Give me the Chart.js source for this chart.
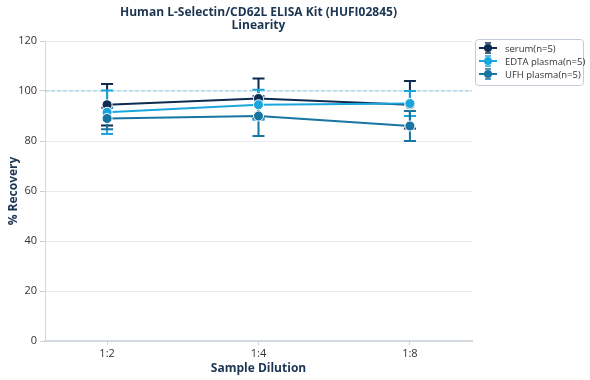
<!DOCTYPE html>
<html><head><meta charset="utf-8">
<script src="https://cdn.jsdelivr.net/npm/chart.js@4/dist/chart.umd.min.js"></script>
<style>html,body{margin:0;padding:0;background:#fff}#wrap{width:590px;height:380px;position:relative}</style>
</head><body><div id="wrap"><canvas id="c" width="590" height="380"></canvas></div>
<script>
const titleLines = ["Human L-Selectin/CD62L ELISA Kit (HUFI02845)", "Linearity"];
const categories = ["1:2", "1:4", "1:8"];
const seriesNames = ["serum(n=5)", "EDTA plasma(n=5)", "UFH plasma(n=5)"];
const serum = [94.5, 97, 94.5];
const serumErr = [8.3, 8, 9.5];
const edta = [91.5, 94.5, 95];
const edtaErr = [8.7, 6, 5];
const ufh = [89, 90, 86];
const ufhErr = [4.3, 8, 6];
const yTicks = [0, 20, 40, 60, 80, 100, 120];
const refValue = 100;
const colors = ["#0d2c4f", "#1aa6dc", "#1874a0"];

const values = [serum, edta, ufh];
const errs = [serumErr, edtaErr, ufhErr];
const FONT = "'Open Sans', 'Noto Sans', sans-serif";

const datasets = values.map((v, i) => ({
  label: seriesNames[i],
  data: v.map((y, j) => ({x: j, y: y})),
  borderColor: colors[i],
  backgroundColor: colors[i],
  borderWidth: 2,
  pointRadius: 5,
  pointBorderColor: '#ffffff',
  pointBorderWidth: 1,
  pointBackgroundColor: colors[i],
  tension: 0,
  order: values.length - i
}));

const errPlugin = {
  id: 'err',
  beforeDatasetsDraw(chart) {
    const ctx = chart.ctx, xs = chart.scales.x, ys = chart.scales.y;
    const ca = chart.chartArea;
    const yr = ys.getPixelForValue(refValue);
    ctx.save();
    ctx.strokeStyle = '#8ccfe3';
    ctx.lineWidth = 1;
    ctx.setLineDash([4, 2]);
    ctx.beginPath(); ctx.moveTo(ca.left, yr); ctx.lineTo(ca.right, yr); ctx.stroke();
    ctx.setLineDash([]);
    for (let i = 0; i < values.length; i++) {
      ctx.strokeStyle = colors[i];
      ctx.lineWidth = 2;
      values[i].forEach((v, j) => {
        const x = xs.getPixelForValue(j);
        const y1 = ys.getPixelForValue(v + errs[i][j]);
        const y2 = ys.getPixelForValue(v - errs[i][j]);
        ctx.beginPath();
        ctx.moveTo(x, y1); ctx.lineTo(x, y2);
        ctx.moveTo(x - 6, y1); ctx.lineTo(x + 6, y1);
        ctx.moveTo(x - 6, y2); ctx.lineTo(x + 6, y2);
        ctx.stroke();
      });
    }
    ctx.restore();
  },
  afterDraw(chart) {
    const ctx = chart.ctx, ca = chart.chartArea;
    ctx.save();
    ctx.fillStyle = '#1b3552';
    ctx.font = "bold 12px " + FONT;
    ctx.textAlign = 'center';
    ctx.textBaseline = 'middle';
    const cx = (ca.left + ca.right) / 2;
    ctx.fillText(titleLines[0], cx, 13);
    ctx.fillText(titleLines[1], cx, 26);
    const lx = 475, ly = 39, lw = 108, lh = 46;
    ctx.strokeStyle = '#c3ccd6';
    ctx.lineWidth = 1;
    ctx.beginPath();
    if (ctx.roundRect) ctx.roundRect(lx + 0.5, ly + 0.5, lw, lh, 3); else ctx.rect(lx + 0.5, ly + 0.5, lw, lh);
    ctx.stroke();
    ctx.font = "9.5px " + FONT;
    ctx.textAlign = 'left';
    seriesNames.forEach((n, i) => {
      const y = ly + 9 + i * 13;
      ctx.strokeStyle = colors[i];
      ctx.fillStyle = colors[i];
      ctx.lineWidth = 2;
      ctx.beginPath(); ctx.moveTo(479, y); ctx.lineTo(497, y); ctx.stroke();
      ctx.lineWidth = 1.5;
      ctx.beginPath(); ctx.moveTo(485, y - 5); ctx.lineTo(491, y - 5); ctx.moveTo(485, y + 5); ctx.lineTo(491, y + 5); ctx.stroke();
      ctx.beginPath(); ctx.arc(488, y, 4, 0, Math.PI * 2); ctx.fill();
      ctx.fillStyle = '#333333';
      ctx.fillText(n, 505, y + 1);
    });
    ctx.restore();
  }
};

new Chart(document.getElementById('c'), {
  type: 'line',
  data: { datasets },
  options: {
    responsive: false,
    animation: false,
    devicePixelRatio: 1,
    layout: { padding: { top: 41, right: 118, left: 0, bottom: 0 } },
    plugins: { legend: { display: false }, title: { display: false }, tooltip: { enabled: false } },
    scales: {
      x: {
        type: 'linear',
        min: -0.41, max: 2.41,
        afterBuildTicks(s) { s.ticks = categories.map((c, j) => ({ value: j })); },
        afterFit(s) { s.height = 39; },
        ticks: {
          callback: (v) => categories[v] !== undefined ? categories[v] : '',
          color: '#333333', font: { family: FONT, size: 11 }, padding: 2, maxRotation: 0
        },
        grid: { drawOnChartArea: false, drawTicks: true, tickLength: 4, color: '#c9d1da' },
        border: { color: '#d3d9e0', width: 2 },
        title: { display: true, text: 'Sample Dilution', color: '#1b3552', font: { family: FONT, size: 12, weight: 'bold' }, padding: { top: 0 } }
      },
      y: {
        min: 0, max: 120,
        afterBuildTicks(s) { s.ticks = yTicks.map(v => ({ value: v })); },
        afterFit(s) { s.width = 45; },
        ticks: { color: '#333333', font: { family: FONT, size: 11 }, padding: 3 },
        grid: { color: '#e6e9ee', tickLength: 5, tickColor: '#c9d1da' },
        border: { color: '#d3d9e0', width: 1 },
        title: { display: true, text: '% Recovery', color: '#1b3552', font: { family: FONT, size: 12, weight: 'bold' }, padding: { top: 6, bottom: 0 } }
      }
    }
  },
  plugins: [errPlugin]
});
</script></body></html>
